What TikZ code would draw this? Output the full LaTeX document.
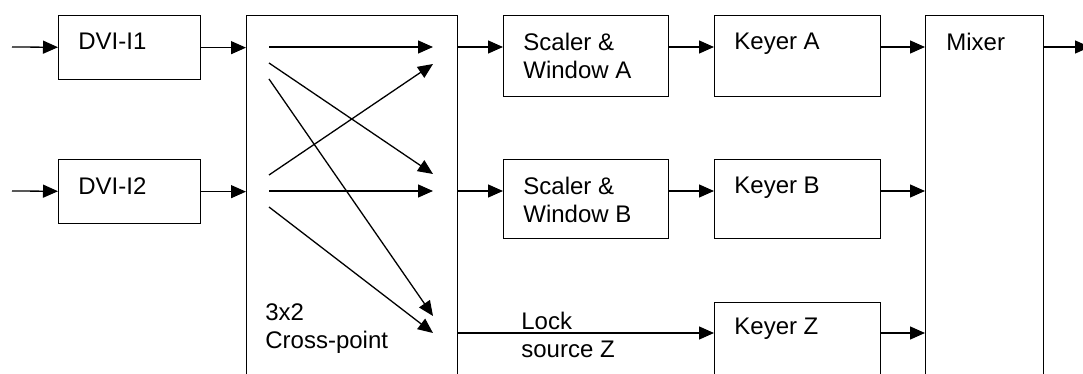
\documentclass[tikz,border=0pt]{standalone}
\usepackage{fontspec}
\setmainfont{Liberation Sans}
\usetikzlibrary{arrows.meta,calc}

\begin{document}
\begin{tikzpicture}[x=0.5pt,y=-0.5pt,
  blk/.style={draw, line width=0.65pt, inner sep=0pt, anchor=north west},
  txt/.style={anchor=north west, inner sep=0pt, align=left,
              font=\fontsize{12}{14}\selectfont},
  conn/.style={line width=0.65pt, -{Triangle[length=7.5pt,width=6.5pt]}}]
\useasboundingbox (0,0) rectangle (1083,374);
\clip (0,0) rectangle (1083,374);

% blocks
\node[blk, minimum width=71pt,   minimum height=32pt]    (dvi1) at (58,15)  {};
\node[blk, minimum width=71pt,   minimum height=32pt]    (dvi2) at (58,159) {};
\node[blk, minimum width=105.5pt,minimum height=192.5pt] (xp)   at (246,15) {};
\node[blk, minimum width=82.5pt, minimum height=40.5pt]  (scA)  at (503,15) {};
\node[blk, minimum width=82.5pt, minimum height=39.5pt]  (scB)  at (503,159) {};
\node[blk, minimum width=83pt,   minimum height=40.5pt]  (kA)   at (714,15) {};
\node[blk, minimum width=83pt,   minimum height=39.5pt]  (kB)   at (714,159) {};
\node[blk, minimum width=83pt,   minimum height=49pt]    (kZ)   at (714,302) {};
\node[blk, minimum width=59pt,   minimum height=192.5pt] (mix)  at (925,15) {};

% block captions
\node[txt] (tdvi1) at ($(dvi1.north west)+(20,18)$) {DVI-I1};
\node[txt] (tdvi2) at ($(dvi2.north west)+(20,18)$) {DVI-I2};
\node[txt] (txp)   at (265,303) {3x2\\Cross-point};
\node[txt] (tscA)  at ($(scA.north west)+(20,18)$) {Scaler \&\\Window A};
\node[txt] (tscB)  at ($(scB.north west)+(20,18)$) {Scaler \&\\Window B};
\node[txt] (tkA)   at ($(kA.north west)+(20,18)$) {Keyer A};
\node[txt] (tkB)   at ($(kB.north west)+(20,18)$) {Keyer B};
\node[txt] (tkZ)   at ($(kZ.north west)+(20,16)$) {Keyer Z};
\node[txt] (tmix)  at ($(mix.north west)+(21,18)$) {Mixer};
\node[txt] (tlock) at (521,312) {Lock\\source Z};

% crosspoint terminals
\coordinate (in1) at (12,47);
\coordinate (in2) at (12,191);
\coordinate (s11) at (269,47);
\coordinate (s12) at (269,63);
\coordinate (s13) at (269,79);
\coordinate (s21) at (269,175);
\coordinate (s22) at (269,191);
\coordinate (s23) at (269,207);
\coordinate (tA1) at (433,47);
\coordinate (tA2) at (433,64);
\coordinate (tB1) at (433,174);
\coordinate (tB2) at (433,191);
\coordinate (tZ1) at (433,316);
\coordinate (tZ2) at (433,333);
\coordinate (out) at (1090,47);

% inputs
\draw[conn] (in1) -- (dvi1);
\draw[conn] (in2) -- (dvi2);
\draw[conn] (dvi1) -- (dvi1 -| xp.west);
\draw[conn] (dvi2) -- (dvi2 -| xp.west);

% switching paths
\draw[conn] (s11) -- (tA1);
\draw[conn] (s12) -- (tB1);
\draw[conn] (s13) -- (tZ1);
\draw[conn] (s21) -- (tA2);
\draw[conn] (s22) -- (tB2);
\draw[conn] (s23) -- (tZ2);

% channel A
\draw[conn] (xp.east |- s11) -- (scA.west |- s11);
\draw[conn] (scA.east |- s11) -- (kA.west |- s11);
\draw[conn] (kA.east |- s11) -- (mix.west |- s11);
\draw[conn] (mix.east |- s11) -- (out);

% channel B
\draw[conn] (xp.east |- s22) -- (scB.west |- s22);
\draw[conn] (scB.east |- s22) -- (kB.west |- s22);
\draw[conn] (kB.east |- s22) -- (mix.west |- s22);

% lock source Z
\draw[conn] (xp.east |- tZ2) -- (kZ.west |- tZ2);
\draw[conn] (kZ.east |- tZ2) -- (mix.west |- tZ2);
\end{tikzpicture}
\end{document}
